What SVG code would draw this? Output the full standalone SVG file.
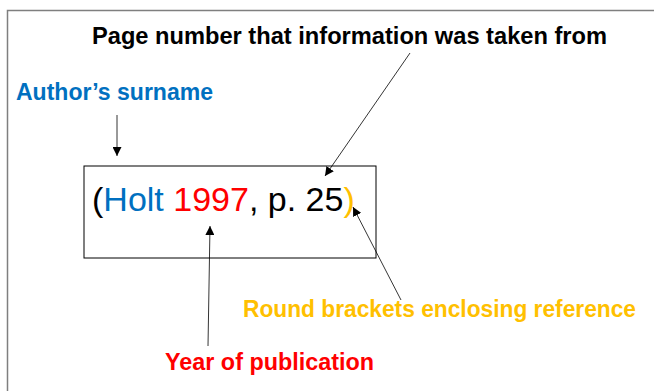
<svg xmlns="http://www.w3.org/2000/svg" width="654" height="391" viewBox="0 0 654 391">
<style>
.lbl{font-family:"Liberation Sans","DejaVu Sans",sans-serif;font-weight:bold;font-size:23px}
.cit{font-family:"Liberation Sans","DejaVu Sans",sans-serif;font-size:34px}
.con{stroke:#000;stroke-width:0.8;fill:none;marker-end:url(#ah)}
</style>
<defs>
<marker id="ah" viewBox="0 0 10 10" refX="10" refY="5" markerWidth="9" markerHeight="9" markerUnits="userSpaceOnUse" orient="auto">
<path d="M0,0 L10,5 L0,10 z" fill="#000"/>
</marker>
</defs>
<rect width="654" height="391" fill="#fff"/>
<path d="M7.5,391 V10.5 H654" stroke="#7f7f7f" stroke-width="1.5" fill="none"/>
<g id="citation">
<rect x="84" y="166" width="292" height="92" fill="#fff" stroke="#000" stroke-width="1"/>
<text class="cit" x="92" y="211"><tspan fill="#000">(</tspan><tspan fill="#0070C0">Holt </tspan><tspan fill="#FF0000">1997</tspan><tspan fill="#000">, p. 25</tspan><tspan fill="#FFC000">)</tspan></text>
</g>
<g id="page-label"><text class="lbl" x="92" y="44" textLength="515" lengthAdjust="spacingAndGlyphs" fill="#000">Page number that information was taken from</text></g>
<g id="author-label"><text class="lbl" x="16" y="100" textLength="197" lengthAdjust="spacingAndGlyphs" fill="#0070C0">Author’s surname</text></g>
<g id="bracket-label"><text class="lbl" x="243" y="317" textLength="393" lengthAdjust="spacingAndGlyphs" fill="#FFC000">Round brackets enclosing reference</text></g>
<g id="year-label"><text class="lbl" x="165" y="370" textLength="209" lengthAdjust="spacingAndGlyphs" fill="#FF0000">Year of publication</text></g>
<g id="connectors">
<line class="con" x1="117" y1="115" x2="117" y2="156"/>
<line class="con" x1="410" y1="53" x2="325" y2="176"/>
<line class="con" x1="208" y1="346" x2="210" y2="226"/>
<line class="con" x1="401" y1="300" x2="353" y2="207"/>
</g>
</svg>
